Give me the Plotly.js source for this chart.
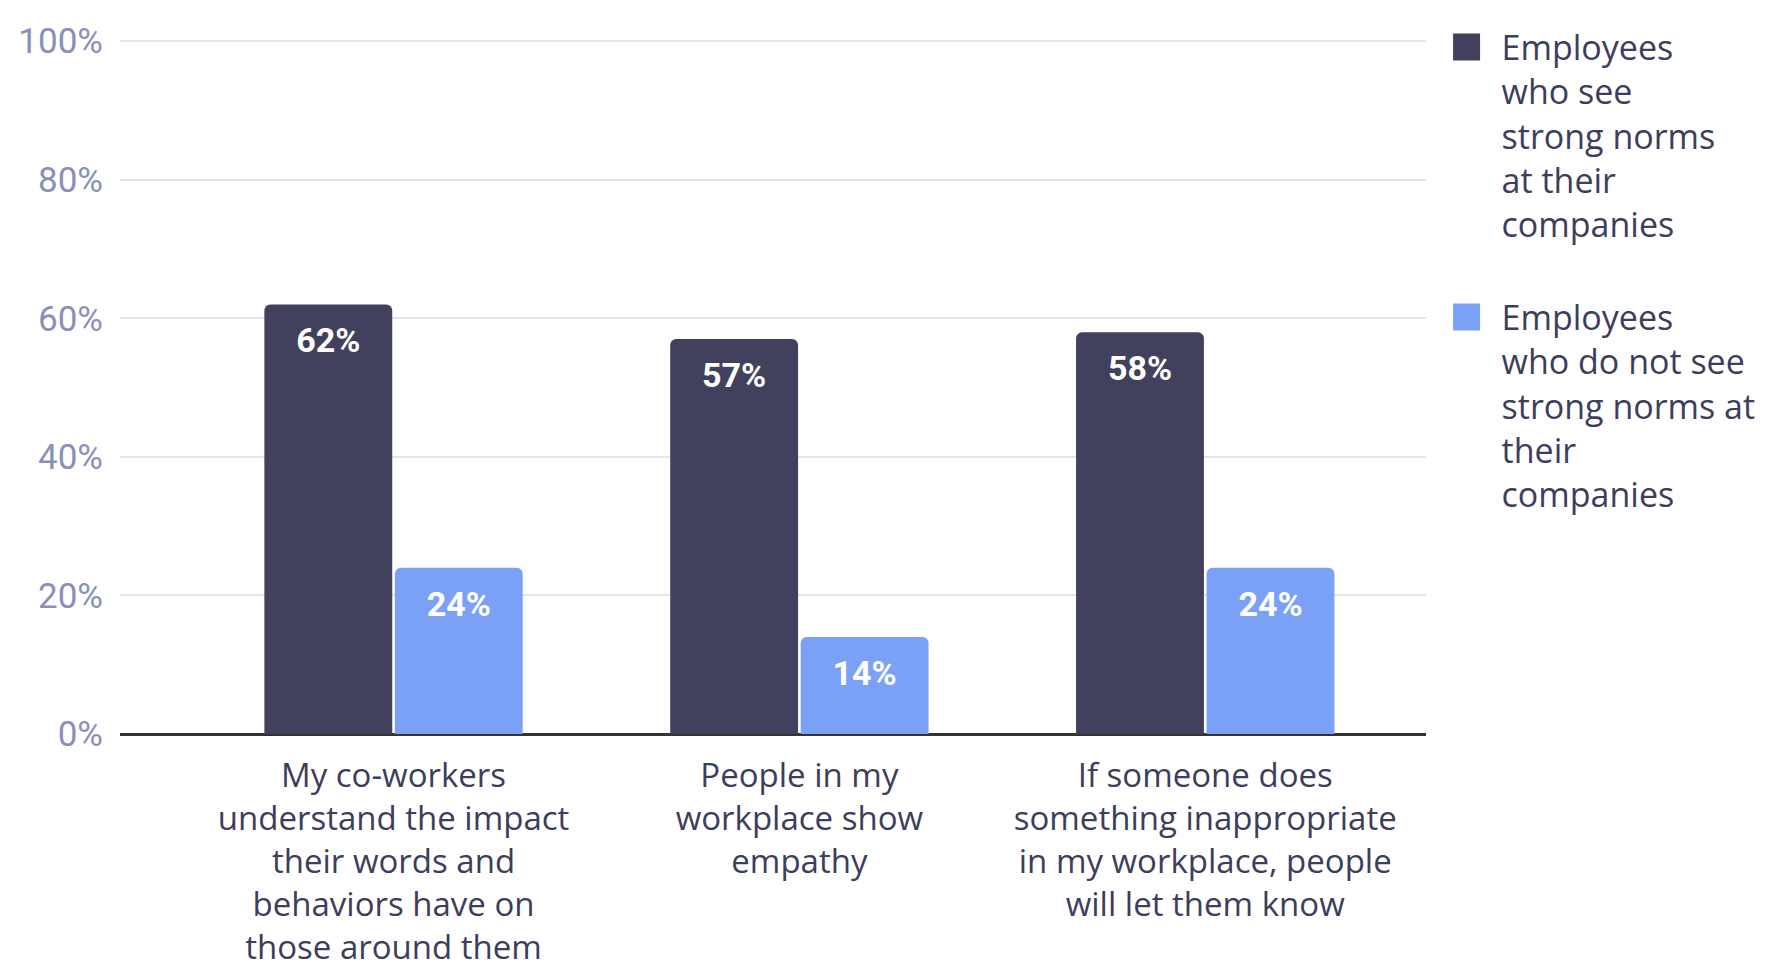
<!DOCTYPE html>
<html>
<head>
<meta charset="utf-8">
<script src="https://cdn.plot.ly/plotly-3.0.1.min.js"></script>
<style>html,body{margin:0;padding:0;background:#fff;}#chart{width:1785px;height:968px;}</style>
</head>
<body>
<div id="chart"></div>
<script>
const categories = [
  "My co-workers<br>understand the impact<br>their words and<br>behaviors have on<br>those around them",
  "People in my<br>workplace show<br>empathy",
  "If someone does<br>something inappropriate<br>in my workplace, people<br>will let them know"
];
const seriesNames = [
  "Employees<br>who see<br>strong norms<br>at their<br>companies",
  "Employees<br>who do not see<br>strong norms at<br>their<br>companies"
];
const strongNorms = [62, 57, 58];
const noStrongNorms = [24, 14, 24];
const yTickValues = [0, 20, 40, 60, 80, 100];
const yTickLabels = ["0%", "20%", "40%", "60%", "80%", "100%"];

const colors = ["#41415d", "#7ba1f6"];
const seriesValues = [strongNorms, noStrongNorms];

const traces = seriesValues.map((vals, i) => ({
  type: "bar",
  x: categories,
  y: vals,
  name: seriesNames[i],
  legendgroup: "g" + i,
  marker: {color: colors[i], cornerradius: 6},
  texttemplate: "%{y}%",
  textposition: "inside",
  insidetextanchor: "end",
  textfont: {family: "Roboto", size: 34, color: "#ffffff", weight: "bold"},
  hoverinfo: "skip"
}));

const layout = {
  width: 1785,
  height: 968,
  paper_bgcolor: "#ffffff",
  plot_bgcolor: "#ffffff",
  margin: {l: 120, r: 359, t: 38, b: 234},
  barmode: "group",
  bargap: 0.357,
  bargroupgap: 0.02,
  showlegend: true,
  legend: {
    xref: "container", yref: "container",
    x: 0.802, y: 0.981, xanchor: "left", yanchor: "top",
    valign: "top",
    itemwidth: 60,
    tracegroupgap: 46,
    font: {family: "Open Sans", size: 34, color: "#3d3d5c"},
    bgcolor: "rgba(0,0,0,0)"
  },
  xaxis: {
    type: "category",
    range: [-0.674, 2.544],
    showgrid: false, zeroline: false, showline: false, ticks: "",
    tickfont: {family: "Open Sans", size: 33, color: "#3d3d5c"},
    ticklabelstandoff: 19
  },
  yaxis: {
    range: [0, 100.45],
    tickvals: yTickValues,
    ticktext: yTickLabels,
    showgrid: true, gridcolor: "#e4e3ef", gridwidth: 2,
    zeroline: true, zerolinecolor: "#333333", zerolinewidth: 3,
    showline: false, ticks: "",
    tickfont: {family: "Roboto", size: 35, color: "#8a8fba"},
    ticklabelstandoff: 16
  }
};

Plotly.newPlot("chart", traces, layout, {displayModeBar: false, staticPlot: true}).then(gd => {
  // let the multi-line legend entries show in full
  gd.querySelectorAll(".legend [clip-path]").forEach(e => e.removeAttribute("clip-path"));
  // larger, sharp-cornered legend swatches like the reference
  gd.querySelectorAll(".legend .legendpoints path").forEach(p => {
    p.setAttribute("d", "M13.5,13.5H-13.5V-13.5H13.5Z");
    p.style.strokeWidth = "0px";
  });
  // push the in-bar value labels a little further down from the bar tops
  gd.querySelectorAll(".bars .point text").forEach(el => {
    const t = el.getAttribute("transform") || "";
    el.setAttribute("transform", "translate(0,10) " + t);
  });
});
</script>
</body>
</html>
